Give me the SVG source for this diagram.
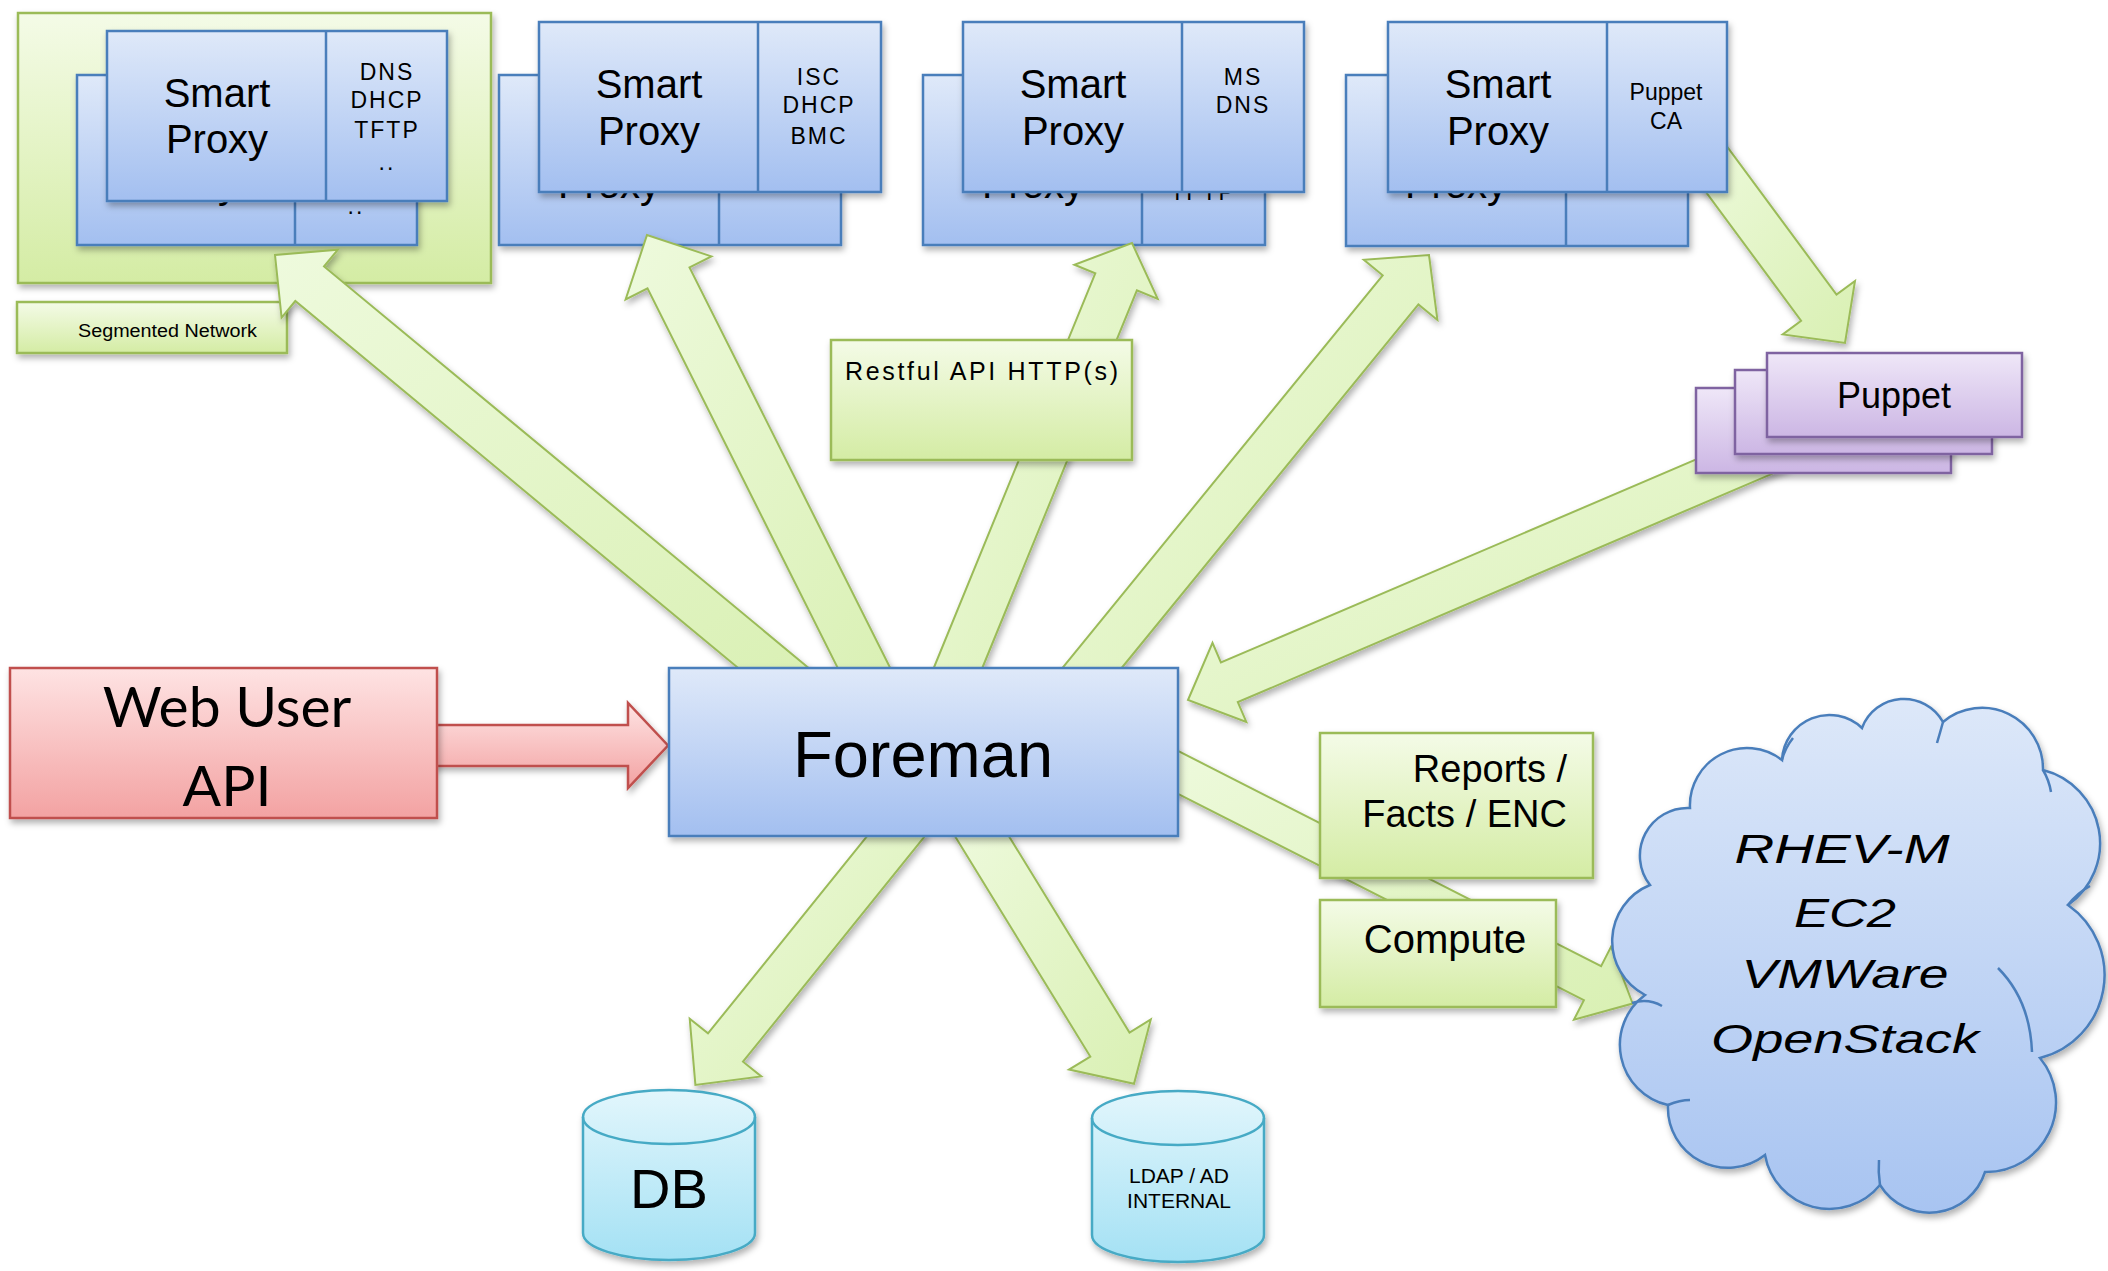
<svg xmlns="http://www.w3.org/2000/svg" width="2108" height="1271" viewBox="0 0 2108 1271">
<defs>
<style>
.t{font-family:"Liberation Sans",Arial,sans-serif;fill:#000}
.c{text-anchor:middle}
.sp{font-size:40px}
.pn{font-size:23px;letter-spacing:2px}
.blue{fill:url(#gBlue);stroke:#4a7ebb;stroke-width:2.5}
.div{stroke:#4a7ebb;stroke-width:2.5}
.green{fill:url(#gGreen);stroke:#9bbb59;stroke-width:2.5}
.arrow{fill:url(#gArrow);stroke:#9bbb59;stroke-width:2;stroke-linejoin:miter}
.red{fill:url(#gRed);stroke:#c0504d;stroke-width:2.5}
.purple{fill:url(#gPurple);stroke:#7f63a1;stroke-width:2.5}
.cyan{fill:url(#gCyan);stroke:#46aac5;stroke-width:2.5}
.cloud{fill:url(#gCloud);stroke:#4a7ebb;stroke-width:2.5}
.inner{fill:none;stroke:#4a7ebb;stroke-width:2.5}
.sh{filter:url(#sh)}
</style>
<filter id="sh" x="-10%" y="-10%" width="130%" height="140%">
<feDropShadow dx="2" dy="4" stdDeviation="3" flood-color="#000" flood-opacity="0.3"/>
</filter>
<linearGradient id="gBlue" x1="0" y1="0" x2="0" y2="1"><stop offset="0" stop-color="#dfe9f9"/><stop offset="1" stop-color="#a3bff0"/></linearGradient>
<linearGradient id="gGreen" x1="0" y1="0" x2="0" y2="1"><stop offset="0" stop-color="#f4fbe7"/><stop offset="1" stop-color="#d4eca4"/></linearGradient>
<linearGradient id="gArrow" x1="0" y1="0" x2="1" y2="1"><stop offset="0" stop-color="#eefadd"/><stop offset="1" stop-color="#d9f0b3"/></linearGradient>
<linearGradient id="gRed" x1="0" y1="0" x2="0" y2="1"><stop offset="0" stop-color="#fee3e3"/><stop offset="1" stop-color="#f3a2a2"/></linearGradient>
<linearGradient id="gPurple" x1="0" y1="0" x2="0" y2="1"><stop offset="0" stop-color="#efe7f8"/><stop offset="1" stop-color="#ccb6e4"/></linearGradient>
<linearGradient id="gCyan" x1="0" y1="0" x2="0" y2="1"><stop offset="0" stop-color="#e2f6fc"/><stop offset="1" stop-color="#a4e1f4"/></linearGradient>
<linearGradient id="gCloud" x1="0" y1="0" x2="0" y2="1"><stop offset="0" stop-color="#dde8f9"/><stop offset="1" stop-color="#a8c4f1"/></linearGradient>
</defs>
<rect width="2108" height="1271" fill="#fff"/>

<g id="segmented-network">
<rect class="green sh" x="18" y="13" width="473" height="270"/>
<rect class="green sh" x="17" y="302" width="270" height="51"/>
<text class="t" x="78" y="337" font-size="18" textLength="179" lengthAdjust="spacingAndGlyphs">Segmented Network</text>
</g>

<g id="proxy1">
<g transform="translate(77,75)">
<rect class="blue sh" x="0" y="0" width="340" height="170"/>
<line class="div" x1="218" y1="0" x2="218" y2="170"/>
<text class="t c sp" x="110" y="123">Proxy</text>
<text class="t c pn" x="279" y="139">..</text>
</g>
<g transform="translate(107,31)">
<rect class="blue sh" x="0" y="0" width="340" height="170"/>
<line class="div" x1="219" y1="0" x2="219" y2="170"/>
<text class="t c sp" x="110" y="76">Smart</text>
<text class="t c sp" x="110" y="122">Proxy</text>
<text class="t c pn" x="280" y="49">DNS</text>
<text class="t c pn" x="280" y="77">DHCP</text>
<text class="t c pn" x="280" y="107">TFTP</text>
<text class="t c pn" x="280" y="139">..</text>
</g>
</g>

<g id="proxy2">
<g transform="translate(499,75)">
<rect class="blue sh" x="0" y="0" width="342" height="170"/>
<line class="div" x1="220" y1="0" x2="220" y2="170"/>
<text class="t c sp" x="110" y="123">Proxy</text>
</g>
<g transform="translate(539,22)">
<rect class="blue sh" x="0" y="0" width="342" height="170"/>
<line class="div" x1="219" y1="0" x2="219" y2="170"/>
<text class="t c sp" x="110" y="76">Smart</text>
<text class="t c sp" x="110" y="123">Proxy</text>
<text class="t c pn" x="280" y="63">ISC</text>
<text class="t c pn" x="280" y="91">DHCP</text>
<text class="t c pn" x="280" y="122">BMC</text>
</g>
</g>

<g id="proxy3">
<g transform="translate(923,75)">
<rect class="blue sh" x="0" y="0" width="342" height="170"/>
<line class="div" x1="219" y1="0" x2="219" y2="170"/>
<text class="t c sp" x="110" y="123">Proxy</text>
<text class="t c pn" x="280" y="125">TFTP</text>
</g>
<g transform="translate(963,22)">
<rect class="blue sh" x="0" y="0" width="341" height="170"/>
<line class="div" x1="219" y1="0" x2="219" y2="170"/>
<text class="t c sp" x="110" y="76">Smart</text>
<text class="t c sp" x="110" y="123">Proxy</text>
<text class="t c pn" x="280" y="63">MS</text>
<text class="t c pn" x="280" y="91">DNS</text>
</g>
</g>

<g id="connectors">
<polygon class="arrow sh" points="814.4,672.7 324.0,266.4 337.7,249.8 275,255 281.6,317.6 295.3,301.0 785.6,707.3"/>
<polygon class="arrow sh" points="896.0,679.5 689.5,267.4 711.4,256.4 647,235 625.6,299.4 647.5,288.4 854.0,700.5"/>
<polygon class="arrow sh" points="969.8,698.5 1136.9,290.4 1157.7,298.9 1132,243 1074.4,264.8 1095.3,273.3 928.2,681.5"/>
<polygon class="arrow sh" points="1091.8,704.5 1418.4,304.4 1437.4,319.9 1429,255 1363.8,259.8 1382.7,275.3 1056.2,675.5"/>
<polygon class="arrow sh" points="1682.3,160.1 1801.1,320.7 1782.7,334.4 1845,343 1855.0,280.9 1836.5,294.6 1717.7,133.9"/>
<polygon class="arrow sh" points="1771.6,427.2 1220.9,662.5 1212.5,642.8 1188,700 1246.3,721.9 1237.8,702.1 1788.5,466.8"/>
<polygon class="arrow sh" points="891.5,805.9 708.0,1033.4 689.7,1018.7 695.4,1084.9 761.3,1076.4 743.0,1061.7 926.5,834.1"/>
<polygon class="arrow sh" points="952.4,832.0 1090.3,1056.6 1069.0,1069.6 1134,1083.7 1150.8,1019.4 1129.5,1032.5 991.6,808.0"/>
<polygon class="arrow sh" points="1151.4,780.3 1583.9,1000.1 1573.9,1019.7 1632.6,1003.5 1611.1,946.6 1601.1,966.2 1168.6,746.1"/>
<polygon class="red sh" points="430,725 628,725 628,703 668,745.5 628,788 628,766 430,766"/>
</g>

<g id="proxy4">
<g transform="translate(1346,75)">
<rect class="blue sh" x="0" y="0" width="342" height="171"/>
<line class="div" x1="220" y1="0" x2="220" y2="171"/>
<text class="t c sp" x="110" y="123">Proxy</text>
</g>
<g transform="translate(1388,22)">
<rect class="blue sh" x="0" y="0" width="339" height="170"/>
<line class="div" x1="219" y1="0" x2="219" y2="170"/>
<text class="t c sp" x="110" y="76">Smart</text>
<text class="t c sp" x="110" y="123">Proxy</text>
<text class="t c" font-size="23" x="278" y="78">Puppet</text>
<text class="t c" font-size="23" x="278" y="107">CA</text>
</g>
</g>

<g id="puppet">
<rect class="purple sh" x="1696" y="388" width="255" height="85"/>
<rect class="purple sh" x="1735" y="370" width="257" height="84"/>
<rect class="purple sh" x="1767" y="353" width="255" height="84"/>
<text class="t c" font-size="36" x="1894" y="408">Puppet</text>
</g>

<g id="restful-api">
<rect class="green sh" x="831" y="340" width="301" height="120"/>
<text class="t" font-size="25" x="845" y="380" textLength="273" lengthAdjust="spacing">Restful API HTTP(s)</text>
</g>

<g id="web-user">
<rect class="red sh" x="10" y="668" width="427" height="150"/>
<text class="c" font-family="Lato, 'Open Sans', sans-serif" font-size="57" x="227" y="727">Web User</text>
<text class="c" font-family="Lato, 'Open Sans', sans-serif" font-size="57" x="227" y="806">API</text>
</g>

<g id="foreman">
<rect class="blue sh" x="669" y="668" width="509" height="168"/>
<text class="t c" font-size="65" x="923" y="777">Foreman</text>
</g>

<g id="reports">
<rect class="green sh" x="1320" y="733" width="273" height="145"/>
<text class="t" font-size="38" x="1567" y="782" text-anchor="end">Reports /</text>
<text class="t" font-size="38" x="1567" y="827" text-anchor="end">Facts / ENC</text>
</g>

<g id="compute">
<rect class="green sh" x="1320" y="900" width="236" height="107"/>
<text class="t c" font-size="40" x="1445" y="953">Compute</text>
</g>

<g id="cloud">
<path class="cloud sh" d="M1690,808 A57.1,57.1 0 0 1 1782,760 A47.4,47.4 0 0 1 1862,728 A44.7,44.7 0 0 1 1943,722 A61,61 0 0 1 2043,770 A75.5,75.5 0 0 1 2068,905 A85.5,85.5 0 0 1 2040,1058 A69.6,69.6 0 0 1 1985,1172 A58.2,58.2 0 0 1 1880,1185 A65.4,65.4 0 0 1 1765,1155 A60,60 0 0 1 1668,1105 A61.8,61.8 0 0 1 1645,995 A60.6,60.6 0 0 1 1650,885 A47.7,47.7 0 0 1 1690,808 Z"/>
<path class="inner" d="M1782,760 Q1785,748 1793,738"/>
<path class="inner" d="M1943,722 Q1940,733 1937,743"/>
<path class="inner" d="M2043,770 Q2049,780 2051,792"/>
<path class="inner" d="M2068,905 Q2077,893 2090,886"/>
<path class="inner" d="M1998,968 Q2030,1000 2032,1052"/>
<path class="inner" d="M1880,1185 Q1878,1172 1879,1160"/>
<path class="inner" d="M1668,1105 Q1680,1100 1690,1100"/>
<path class="inner" d="M1632,1003 Q1648,998 1662,1006"/>
<g font-family="'Liberation Sans',Arial,sans-serif" font-style="italic" font-size="40" text-anchor="middle">
<text x="1842" y="863" textLength="215" lengthAdjust="spacingAndGlyphs">RHEV-M</text>
<text x="1845" y="927" textLength="102" lengthAdjust="spacingAndGlyphs">EC2</text>
<text x="1845" y="988" textLength="207" lengthAdjust="spacingAndGlyphs">VMWare</text>
<text x="1845" y="1053" textLength="268" lengthAdjust="spacingAndGlyphs">OpenStack</text>
</g>
</g>

<g id="db">
<path class="cyan sh" d="M583,1117 L583,1233 A86,27 0 0 0 755,1233 L755,1117 A86,27 0 0 0 583,1117 Z"/>
<path d="M583,1117 A86,27 0 0 0 755,1117" fill="none" stroke="#46aac5" stroke-width="2.5"/>
<text class="t c" font-size="56" x="669" y="1208">DB</text>
</g>

<g id="ldap">
<path class="cyan sh" d="M1092,1118 L1092,1235 A86,27 0 0 0 1264,1235 L1264,1118 A86,27 0 0 0 1092,1118 Z"/>
<path d="M1092,1118 A86,27 0 0 0 1264,1118" fill="none" stroke="#46aac5" stroke-width="2.5"/>
<text class="t c" font-size="21" x="1179" y="1183">LDAP / AD</text>
<text class="t c" font-size="21" x="1179" y="1208">INTERNAL</text>
</g>
</svg>
